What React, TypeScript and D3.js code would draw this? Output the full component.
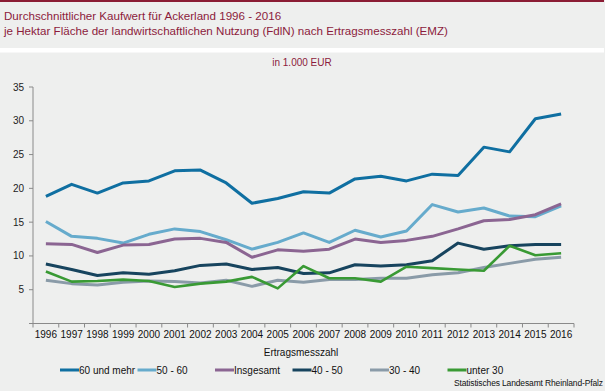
import React, { ReactElement, useEffect, useRef } from "react";
import * as d3 from "d3";

const years = [
  "1996", "1997", "1998", "1999", "2000", "2001", "2002", "2003", "2004", "2005", "2006",
  "2007", "2008", "2009", "2010", "2011", "2012", "2013", "2014", "2015", "2016",
];

// values in 1.000 EUR per ha
const emz60 = [18.8, 20.6, 19.3, 20.8, 21.1, 22.6, 22.7, 20.8, 17.8, 18.5, 19.5, 19.3, 21.4, 21.8, 21.1, 22.1, 21.9, 26.1, 25.4, 30.3, 31.0];
const emz5060 = [15.1, 12.9, 12.6, 11.9, 13.2, 14.0, 13.6, 12.4, 11.0, 12.0, 13.4, 12.0, 13.8, 12.8, 13.7, 17.6, 16.5, 17.1, 15.9, 15.8, 17.4];
const insgesamt = [11.8, 11.7, 10.5, 11.6, 11.7, 12.5, 12.6, 12.0, 9.8, 10.9, 10.7, 11.0, 12.5, 12.0, 12.3, 12.9, 14.0, 15.2, 15.4, 16.1, 17.7];
const emz4050 = [8.8, 8.0, 7.1, 7.5, 7.3, 7.8, 8.6, 8.8, 8.0, 8.3, 7.4, 7.5, 8.7, 8.5, 8.7, 9.3, 11.9, 11.0, 11.5, 11.7, 11.7];
const emz3040 = [6.4, 5.9, 5.7, 6.1, 6.3, 6.2, 6.0, 6.4, 5.5, 6.4, 6.1, 6.5, 6.5, 6.7, 6.7, 7.2, 7.5, 8.3, 8.9, 9.5, 9.8];
const unter30 = [7.7, 6.2, 6.3, 6.5, 6.3, 5.4, 5.9, 6.2, 6.9, 5.2, 8.5, 6.7, 6.7, 6.2, 8.4, 8.2, 8.0, 7.8, 11.5, 10.1, 10.4];

const seriesNames = ["60 und mehr", "50 - 60", "Insgesamt", "40 - 50", "30 - 40", "unter 30"];
const seriesValues = [emz60, emz5060, insgesamt, emz4050, emz3040, unter30];
const seriesColors = ["#0f6fa1", "#66abcc", "#8b6592", "#17445e", "#8a9ba8", "#399a34"];
const yTicks = [0, 5, 10, 15, 20, 25, 30, 35];

const W = 605;
const H = 391;
const FONT = "'Liberation Sans', Arial, sans-serif";

function LineChart(): ReactElement {
  const ref = useRef<SVGSVGElement>(null);

  useEffect(() => {
    drawChart();
  });

  const drawChart = () => {
    const svg = d3.select(ref.current);
    svg.selectAll("*").remove();

    const x = d3.scaleBand().domain(years).range([33, 574]).padding(0);
    const y = d3.scaleLinear().domain([0, 35]).range([323.5, 87]);

    svg.append("rect").attr("width", W).attr("height", H).attr("fill", "#eeefee");
    svg.append("rect").attr("width", 604).attr("height", 2).attr("fill", "#8b1c34");
    svg.append("rect").attr("y", 48).attr("width", 604).attr("height", 4.5).attr("fill", "#ffffff");

    const red = "#8c1b3c";
    svg.append("text").attr("x", 4).attr("y", 20).attr("fill", red).attr("font-size", 11.6)
      .text("Durchschnittlicher Kaufwert für Ackerland 1996 - 2016");
    svg.append("text").attr("x", 4).attr("y", 35).attr("fill", red).attr("font-size", 11.6)
      .text("je Hektar Fläche der landwirtschaftlichen Nutzung (FdlN) nach Ertragsmesszahl (EMZ)");
    svg.append("text").attr("x", 302).attr("y", 66).attr("fill", red).attr("font-size", 10)
      .attr("text-anchor", "middle").text("in 1.000 EUR");

    // y axis
    const axisColor = "#8a8a8a";
    svg.append("line").attr("x1", 33).attr("x2", 33).attr("y1", y(35)).attr("y2", y(0))
      .attr("stroke", axisColor);
    const yg = svg.append("g");
    yTicks.forEach((t) => {
      yg.append("line").attr("x1", 29).attr("x2", 33).attr("y1", y(t)).attr("y2", y(t))
        .attr("stroke", axisColor);
      if (t > 0)
        yg.append("text").attr("x", 24).attr("y", y(t) + 3.5).attr("text-anchor", "end")
          .attr("font-size", 10).attr("fill", "#222").text(t);
    });

    // x axis
    svg.append("line").attr("x1", 33).attr("x2", 574).attr("y1", y(0)).attr("y2", y(0))
      .attr("stroke", axisColor);
    const xg = svg.append("g");
    years.forEach((yr) => {
      const x0 = x(yr) || 0;
      xg.append("line").attr("x1", x0).attr("x2", x0).attr("y1", y(0)).attr("y2", y(0) + 4)
        .attr("stroke", axisColor);
      xg.append("text").attr("x", x0 + x.bandwidth() / 2).attr("y", 338)
        .attr("text-anchor", "middle").attr("font-size", 10).attr("fill", "#111").text(yr);
    });
    xg.append("line").attr("x1", 574).attr("x2", 574).attr("y1", y(0)).attr("y2", y(0) + 4)
      .attr("stroke", axisColor);

    svg.append("text").attr("x", 301).attr("y", 356).attr("text-anchor", "middle")
      .attr("font-size", 10).attr("fill", "#111").text("Ertragsmesszahl");

    // lines
    const line = d3.line<number>()
      .x((_, i) => (x(years[i]) || 0) + x.bandwidth() / 2)
      .y((d) => y(d));
    seriesValues.forEach((vals, i) => {
      svg.append("path").datum(vals).attr("d", line).attr("fill", "none")
        .attr("stroke", seriesColors[i]).attr("stroke-width", i === 5 ? 2.6 : 3)
        .attr("stroke-linejoin", "round");
    });

    // legend
    const lg = svg.append("g");
    seriesNames.forEach((name, i) => {
      const lx = 60 + i * 77.5;
      lg.append("line").attr("x1", lx).attr("x2", lx + 19).attr("y1", 370).attr("y2", 370)
        .attr("stroke", seriesColors[i]).attr("stroke-width", 3);
      lg.append("text").attr("x", lx + 19).attr("y", 373.5).attr("font-size", 10)
        .attr("fill", "#111").text(name);
    });

    svg.append("text").attr("x", 603).attr("y", 386).attr("text-anchor", "end")
      .attr("font-size", 8.5).attr("fill", "#111").attr("textLength", 149)
      .text("Statistisches Landesamt Rheinland-Pfalz");
  };

  return <svg ref={ref} width={W} height={H} style={{ display: "block", fontFamily: FONT }}></svg>;
}

export default function App(): ReactElement {
  return (
    <div style={{ position: "absolute", left: 0, top: 0 }}>
      <LineChart />
    </div>
  );
}
